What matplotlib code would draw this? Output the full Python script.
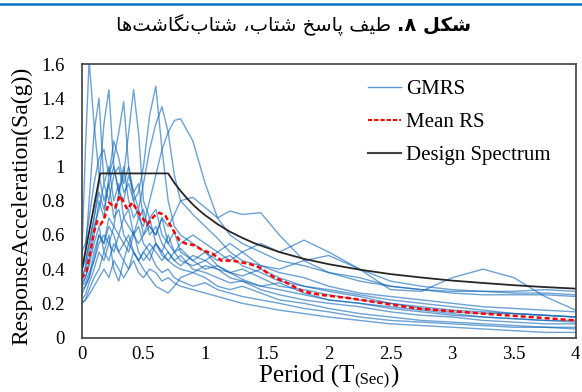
import matplotlib
matplotlib.use('Agg')
import matplotlib.pyplot as plt
from matplotlib.lines import Line2D

# periods (sec) shared by the individual ground-motion spectra
period = [0, 0.03, 0.06, 0.1, 0.14, 0.18, 0.22, 0.26, 0.3, 0.34,
          0.38, 0.42, 0.46, 0.5, 0.55, 0.6, 0.65, 0.7, 0.75, 0.8,
          0.9, 1.0, 1.1, 1.2, 1.3, 1.45, 1.6, 1.8, 2.0, 2.25,
          2.5, 2.75, 3.0, 3.25, 3.5, 3.75, 4.0]

gm01 = [0.45, 1.10, 1.62, 1.25, 0.95, 0.80, 0.90, 0.70, 0.75, 0.60,
        0.55, 0.62, 0.50, 0.45, 0.50, 0.42, 0.38, 0.40, 0.35, 0.33,
        0.30, 0.32, 0.28, 0.26, 0.24, 0.22, 0.20, 0.17, 0.15, 0.12,
        0.10, 0.09, 0.08, 0.07, 0.06, 0.06, 0.05]
gm02 = [0.38, 0.50, 0.80, 1.20, 1.40, 0.90, 1.00, 0.80, 0.90, 0.70,
        0.75, 0.60, 0.65, 0.55, 0.50, 0.55, 0.48, 0.45, 0.42, 0.40,
        0.38, 0.35, 0.30, 0.28, 0.30, 0.26, 0.22, 0.20, 0.17, 0.14,
        0.12, 0.10, 0.09, 0.08, 0.07, 0.06, 0.06]
gm03 = [0.33, 0.42, 0.55, 0.70, 0.90, 1.25, 1.45, 1.00, 0.85, 1.00,
        0.80, 0.70, 0.75, 0.60, 0.70, 0.55, 0.50, 0.60, 0.50, 0.45,
        0.42, 0.45, 0.40, 0.35, 0.33, 0.30, 0.28, 0.25, 0.22, 0.20,
        0.17, 0.15, 0.13, 0.12, 0.11, 0.10, 0.09]
gm04 = [0.30, 0.35, 0.45, 0.60, 0.80, 0.70, 0.95, 1.05, 1.20, 1.38,
        1.00, 0.85, 0.90, 0.70, 0.65, 0.60, 0.70, 0.55, 0.50, 0.52,
        0.45, 0.40, 0.42, 0.38, 0.34, 0.30, 0.32, 0.26, 0.22, 0.20,
        0.18, 0.16, 0.14, 0.12, 0.11, 0.10, 0.10]
gm05 = [0.25, 0.30, 0.35, 0.50, 0.60, 0.55, 0.70, 0.65, 0.85, 0.95,
        1.20, 1.45, 1.20, 0.80, 0.70, 0.75, 0.60, 0.55, 0.62, 0.50,
        0.45, 0.50, 0.42, 0.38, 0.40, 0.35, 0.30, 0.28, 0.25, 0.22,
        0.20, 0.18, 0.16, 0.15, 0.14, 0.13, 0.12]
gm06 = [0.35, 0.40, 0.50, 0.65, 0.75, 0.90, 0.80, 0.95, 1.00, 0.85,
        0.90, 0.80, 0.85, 1.00, 1.30, 1.47, 1.10, 0.80, 0.65, 0.60,
        0.55, 0.50, 0.45, 0.48, 0.42, 0.38, 0.33, 0.30, 0.28, 0.25,
        0.22, 0.20, 0.18, 0.16, 0.14, 0.13, 0.12]
gm07 = [0.40, 0.45, 0.55, 0.70, 0.85, 0.75, 0.90, 1.00, 0.85, 0.80,
        0.95, 0.85, 0.75, 0.90, 1.10, 1.25, 1.35, 1.20, 0.95, 0.80,
        0.72, 0.65, 0.58, 0.50, 0.45, 0.42, 0.38, 0.35, 0.30, 0.26,
        0.24, 0.22, 0.20, 0.18, 0.17, 0.16, 0.15]
gm08 = [0.28, 0.30, 0.35, 0.45, 0.55, 0.60, 0.55, 0.65, 0.60, 0.70,
        0.65, 0.60, 0.70, 0.65, 0.80, 0.95, 1.10, 1.20, 1.27, 1.28,
        1.15, 0.90, 0.70, 0.60, 0.55, 0.50, 0.45, 0.42, 0.38, 0.33,
        0.30, 0.28, 0.26, 0.25, 0.25, 0.25, 0.24]
gm09 = [0.22, 0.25, 0.32, 0.40, 0.50, 0.45, 0.55, 0.50, 0.60, 0.55,
        0.50, 0.60, 0.55, 0.60, 0.65, 0.60, 0.70, 0.65, 0.72, 0.80,
        0.82, 0.76, 0.70, 0.74, 0.72, 0.73, 0.60, 0.45, 0.38, 0.35,
        0.30, 0.28, 0.27, 0.27, 0.26, 0.26, 0.25]
gm10 = [0.20, 0.22, 0.28, 0.35, 0.40, 0.50, 0.45, 0.55, 0.50, 0.45,
        0.55, 0.50, 0.45, 0.50, 0.45, 0.55, 0.50, 0.45, 0.50, 0.55,
        0.60, 0.55, 0.50, 0.45, 0.50, 0.55, 0.50, 0.57, 0.50, 0.40,
        0.33, 0.30, 0.28, 0.27, 0.27, 0.28, 0.27]
gm11 = [0.30, 0.32, 0.38, 0.45, 0.60, 0.55, 0.65, 0.60, 0.50, 0.55,
        0.60, 0.50, 0.45, 0.50, 0.55, 0.50, 0.45, 0.50, 0.45, 0.42,
        0.48, 0.45, 0.50, 0.55, 0.50, 0.42, 0.40, 0.45, 0.48, 0.40,
        0.28, 0.27, 0.35, 0.40, 0.35, 0.24, 0.16]
gm12 = [0.20, 0.22, 0.25, 0.30, 0.35, 0.40, 0.35, 0.45, 0.40, 0.35,
        0.40, 0.45, 0.38, 0.35, 0.40, 0.38, 0.33, 0.35, 0.32, 0.30,
        0.28, 0.26, 0.24, 0.22, 0.20, 0.18, 0.16, 0.14, 0.12, 0.10,
        0.08, 0.07, 0.06, 0.05, 0.04, 0.03, 0.03]
gm13 = [0.32, 0.35, 0.42, 0.55, 0.65, 0.50, 0.60, 0.40, 0.33, 0.45,
        0.40, 0.50, 0.45, 0.40, 0.35, 0.30, 0.28, 0.26, 0.30, 0.35,
        0.38, 0.42, 0.40, 0.38, 0.36, 0.40, 0.35, 0.30, 0.27, 0.24,
        0.20, 0.17, 0.15, 0.14, 0.14, 0.13, 0.12]
gm14 = [0.50, 0.55, 0.70, 0.90, 1.05, 1.10, 0.95, 1.15, 1.05, 0.90,
        1.00, 0.80, 0.70, 0.75, 0.60, 0.65, 0.55, 0.50, 0.45, 0.48,
        0.40, 0.38, 0.35, 0.32, 0.33, 0.28, 0.25, 0.22, 0.20, 0.18,
        0.15, 0.13, 0.12, 0.10, 0.09, 0.08, 0.08]
gmrs = [gm01, gm02, gm03, gm04, gm05, gm06, gm07,
        gm08, gm09, gm10, gm11, gm12, gm13, gm14]

mean_T = [0, 0.04, 0.07, 0.1, 0.125, 0.15, 0.18, 0.22, 0.27, 0.31,
          0.37, 0.41, 0.46, 0.53, 0.585, 0.63, 0.68, 0.73, 0.79, 0.84,
          0.91, 0.98, 1.06, 1.13, 1.22, 1.36, 1.44, 1.55, 1.66, 1.79,
          1.93, 2.17, 2.44, 2.71, 2.98, 3.25, 3.53, 3.82, 4.0]
mean_sa = [0.345, 0.39, 0.50, 0.62, 0.68, 0.66, 0.69, 0.79, 0.76, 0.83,
           0.75, 0.79, 0.73, 0.66, 0.71, 0.73, 0.71, 0.64, 0.57, 0.55,
           0.54, 0.51, 0.49, 0.45, 0.45, 0.43, 0.41, 0.355, 0.32, 0.27,
           0.25, 0.23, 0.20, 0.17, 0.155, 0.14, 0.125, 0.11, 0.10]

design_T = [0, 0.15, 0.7, 0.75, 0.8, 0.85, 0.9, 0.95, 1.0, 1.1, 1.2, 1.3,
            1.4, 1.6, 1.8, 2.0, 2.25, 2.5, 2.75, 3.0, 3.25, 3.5, 3.75, 4.0]
design_sa = [0.39, 0.96, 0.96, 0.905, 0.858, 0.816, 0.778, 0.745, 0.715,
             0.663, 0.619, 0.583, 0.551, 0.500, 0.460, 0.429, 0.397,
             0.371, 0.351, 0.333, 0.319, 0.306, 0.295, 0.286]

x_ticks = [0, 0.5, 1, 1.5, 2, 2.5, 3, 3.5, 4]
x_labels = ['0', '0.5', '1', '1.5', '2', '2.5', '3', '3.5', '4']
y_ticks = [0, 0.2, 0.4, 0.6, 0.8, 1.0, 1.2, 1.4, 1.6]
y_labels = ['0', '0.2', '0.4', '0.6', '0.8', '1', '1.2', '1.4', '1.6']

# Persian title, pre-shaped glyphs in visual (left-to-right) order
title_bold = '.\u06F8 \uFEDE\uFEDC\uFEB7'
title_rest = ('\uFE8E\uFEEB\uFE96\uFEB7\uFE8E\uFB95\uFEE7\uFE8F\uFE8E\uFE98\uFEB7'
              ' \u060C\uFE8F\uFE8E\uFE98\uFEB7'
              ' \uFEA6\uFEB3\uFE8E\uFB58'
              ' \uFED2\uFEF4\uFEC3')

plt.rcParams['font.family'] = ['Liberation Serif', 'DejaVu Serif']

fig = plt.figure(figsize=(5.82, 3.92), dpi=100)
ax = fig.add_axes([0.1404, 0.139, 0.8488, 0.6977])

for sa in gmrs:
    ax.plot(period, sa, color='#0a64b8', lw=1.0, alpha=0.6)
ax.plot(design_T, design_sa, color='#262626', lw=1.3)
ax.plot(mean_T, mean_sa, color='#ff0000', lw=1.8, linestyle=(0, (2, 1.2)))

ax.set_xlim(0, 4)
ax.set_ylim(0, 1.6)
ax.set_xticks(x_ticks)
ax.set_xticklabels(x_labels)
ax.set_yticks(y_ticks)
ax.set_yticklabels(y_labels)
ax.tick_params(length=0, labelsize=13.5)
ax.tick_params(axis='y', pad=12)
ax.tick_params(axis='x', pad=6)
for s in ax.spines.values():
    s.set_color('#404040')
    s.set_linewidth(1.2)

handles = [Line2D([], [], color='#5b9bd5', lw=1),
           Line2D([], [], color='#ff0000', lw=1.5, linestyle=(0, (2, 1))),
           Line2D([], [], color='#404040', lw=1.5)]
ax.legend(handles, ['GMRS', 'Mean RS', 'Design Spectrum'],
          loc='upper left', bbox_to_anchor=(0.632, 0.797),
          bbox_transform=fig.transFigure, frameon=False, fontsize=15,
          handlelength=1.6, handletextpad=0.25, labelspacing=0.65,
          borderpad=0, borderaxespad=0)

# axis titles
fig.text(0.038, 0.474, 'ResponseAcceleration(Sa(g))', rotation=90,
         fontsize=17, ha='center', va='center')
t1 = fig.text(259 / 582, 1 - 388 / 392, 'Period (T', fontsize=18,
              ha='left', va='bottom')
t2 = ax.annotate('(Sec)', xy=(1, 0), xycoords=t1, fontsize=12,
                 ha='left', va='bottom', annotation_clip=False)
ax.annotate(')', xy=(1, 0), xycoords=(t2, t1), fontsize=18,
            ha='left', va='bottom', annotation_clip=False)

# title and the blue rule at the very top
fig.add_artist(Line2D([0, 1], [0.9906, 0.9906], color='#0070c0', lw=1.8,
                      transform=fig.transFigure))
tb = fig.text(471 / 582, 1 - 25 / 392, title_bold, fontsize=14,
              fontweight='bold', family=['DejaVu Sans'],
              ha='right', va='center')
ax.annotate(title_rest, xy=(0, 0.5), xycoords=tb, xytext=(-4, 0),
            textcoords='offset points', fontsize=14,
            family=['DejaVu Sans'], ha='right', va='center',
            annotation_clip=False)

fig.savefig('out.png', dpi=100)
